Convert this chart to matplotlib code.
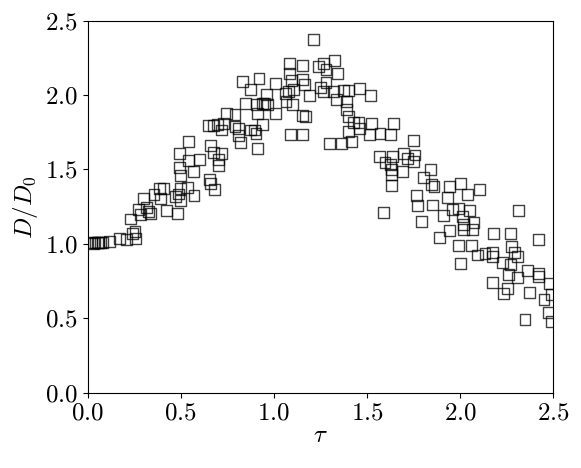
import matplotlib
matplotlib.use('Agg')
from matplotlib import pyplot as plt
from matplotlib.ticker import FormatStrFormatter

plt.rcParams['mathtext.fontset'] = 'cm'
plt.rcParams['font.family'] = 'serif'
plt.rcParams['font.serif'] = ['cmr10', 'DejaVu Serif']

# values
tau = [0.021, 0.031, 0.039, 0.050, 0.057, 0.070, 0.080, 0.116, 0.170, 0.209,
       0.254, 0.242, 0.259, 0.231, 0.272, 0.281, 0.317, 0.325, 0.335, 0.302,
       0.356, 0.385, 0.406, 0.392, 0.421, 0.481, 0.474, 0.487, 0.499, 0.496,
       0.535, 0.571, 0.499, 0.492, 0.492, 0.680,
       0.830, 0.920, 0.872, 1.011, 0.961, 0.850, 0.904, 0.911, 0.952, 0.965,
       1.011, 1.065, 1.060, 1.086, 1.086, 1.096, 1.104, 1.101, 1.090, 0.743,
       0.791, 0.648, 0.675, 0.696, 0.728, 0.720, 0.791, 0.809, 0.809, 0.822,
       0.875, 0.898, 0.904, 0.940, 0.911, 0.540, 0.661, 0.675, 0.720, 0.701,
       0.701, 0.599, 0.540, 0.567, 0.653, 0.661, 1.077, 0.940,
       1.155, 1.155, 1.162, 1.190, 1.155, 1.172, 1.155, 1.212, 1.238, 1.269,
       1.328, 1.280, 1.340, 1.280, 1.251, 1.269, 1.319, 1.337, 1.373, 1.400,
       1.391, 1.391, 1.400, 1.462, 1.520, 1.400, 1.430, 1.453, 1.459, 1.525,
       1.516, 1.570, 1.627, 1.641, 1.301, 1.364, 1.418, 1.752, 1.566, 1.597,
       1.624, 1.638, 1.695, 1.716, 1.758, 1.749, 1.842,
       1.633, 1.633, 1.692, 1.633, 1.802, 1.847, 1.860, 1.767, 1.770, 1.942,
       2.000, 2.039, 2.103, 1.931, 1.853, 1.910, 1.960, 1.990, 2.014, 2.053,
       2.075, 2.017, 2.021, 2.068, 1.794, 1.942, 1.892, 1.588, 2.182, 2.272,
       2.313, 2.420, 1.990, 2.062, 2.092, 2.134, 2.175, 2.175, 2.000, 2.229,
       2.277, 2.295, 2.307, 2.272, 2.259, 2.307, 2.361, 2.420, 2.420, 2.175,
       2.232, 2.254, 2.372, 2.451, 2.483, 2.492, 2.474, 2.492, 2.349]
ratio = [1.008, 1.003, 1.008, 1.010, 1.008, 1.008, 1.012, 1.015, 1.033, 1.031,
         1.082, 1.071, 1.033, 1.167, 1.228, 1.194, 1.246, 1.216, 1.206, 1.306,
         1.329, 1.374, 1.374, 1.306, 1.221, 1.201, 1.317, 1.335, 1.290, 1.374,
         1.380, 1.322, 1.456, 1.515, 1.609, 1.362,
         2.090, 2.113, 2.034, 2.079, 2.001, 1.940, 1.934, 1.878, 1.945, 1.934,
         1.873, 1.956, 2.012, 2.214, 2.147, 2.097, 2.034, 1.934, 1.732, 1.873,
         1.866, 1.794, 1.794, 1.799, 1.810, 1.765, 1.788, 1.777, 1.725, 1.680,
         1.765, 1.765, 1.743, 1.799, 1.642, 1.687, 1.658, 1.613, 1.604, 1.564,
         1.524, 1.569, 1.559, 1.485, 1.434, 1.407, 2.023, 1.945,
         2.196, 2.106, 2.068, 1.994, 1.860, 1.855, 1.732, 2.375, 2.191, 2.214,
         2.231, 2.173, 2.142, 2.083, 2.052, 2.023, 2.023, 1.967, 2.030, 2.030,
         1.956, 1.905, 1.855, 2.046, 1.994, 1.754, 1.815, 1.815, 1.777, 1.806,
         1.732, 1.743, 1.732, 1.810, 1.676, 1.671, 1.687, 1.694, 1.586, 1.546,
         1.530, 1.586, 1.609, 1.575, 1.597, 1.552, 1.497,
         1.497, 1.463, 1.485, 1.389, 1.448, 1.396, 1.384, 1.322, 1.255, 1.384,
         1.403, 1.329, 1.367, 1.313, 1.261, 1.188, 1.233, 1.239, 1.183, 1.223,
         1.142, 1.127, 1.098, 1.098, 1.149, 1.089, 1.044, 1.210, 1.067, 1.071,
         1.223, 1.026, 0.986, 0.986, 0.925, 0.932, 0.941, 0.914, 0.865, 0.874,
         0.981, 0.941, 0.914, 0.858, 0.791, 0.776, 0.820, 0.798, 0.780, 0.739,
         0.668, 0.702, 0.672, 0.628, 0.731, 0.657, 0.538, 0.477, 0.493]

fig = plt.figure(figsize=(5.81, 4.68), dpi=100)
ax = fig.add_axes([0.151, 0.161, 0.801, 0.795])

ax.scatter(tau, ratio, s=62, marker='s', facecolors='none',
           edgecolors='k', linewidths=1.0, alpha=0.75, clip_on=True)

ax.set_xlim(0, 2.5)
ax.set_ylim(0, 2.5)
ax.set_xticks([0.0, 0.5, 1.0, 1.5, 2.0, 2.5])
ax.set_yticks([0.0, 0.5, 1.0, 1.5, 2.0, 2.5])
ax.xaxis.set_major_formatter(FormatStrFormatter('$%.1f$'))
ax.yaxis.set_major_formatter(FormatStrFormatter('$%.1f$'))
ax.tick_params(labelsize=18)

ax.set_xlabel(r'$\tau$', fontsize=18, labelpad=0)
ax.set_ylabel(r'$D/D_0$', fontsize=18, labelpad=4)

plt.savefig('out.png', dpi=100)
